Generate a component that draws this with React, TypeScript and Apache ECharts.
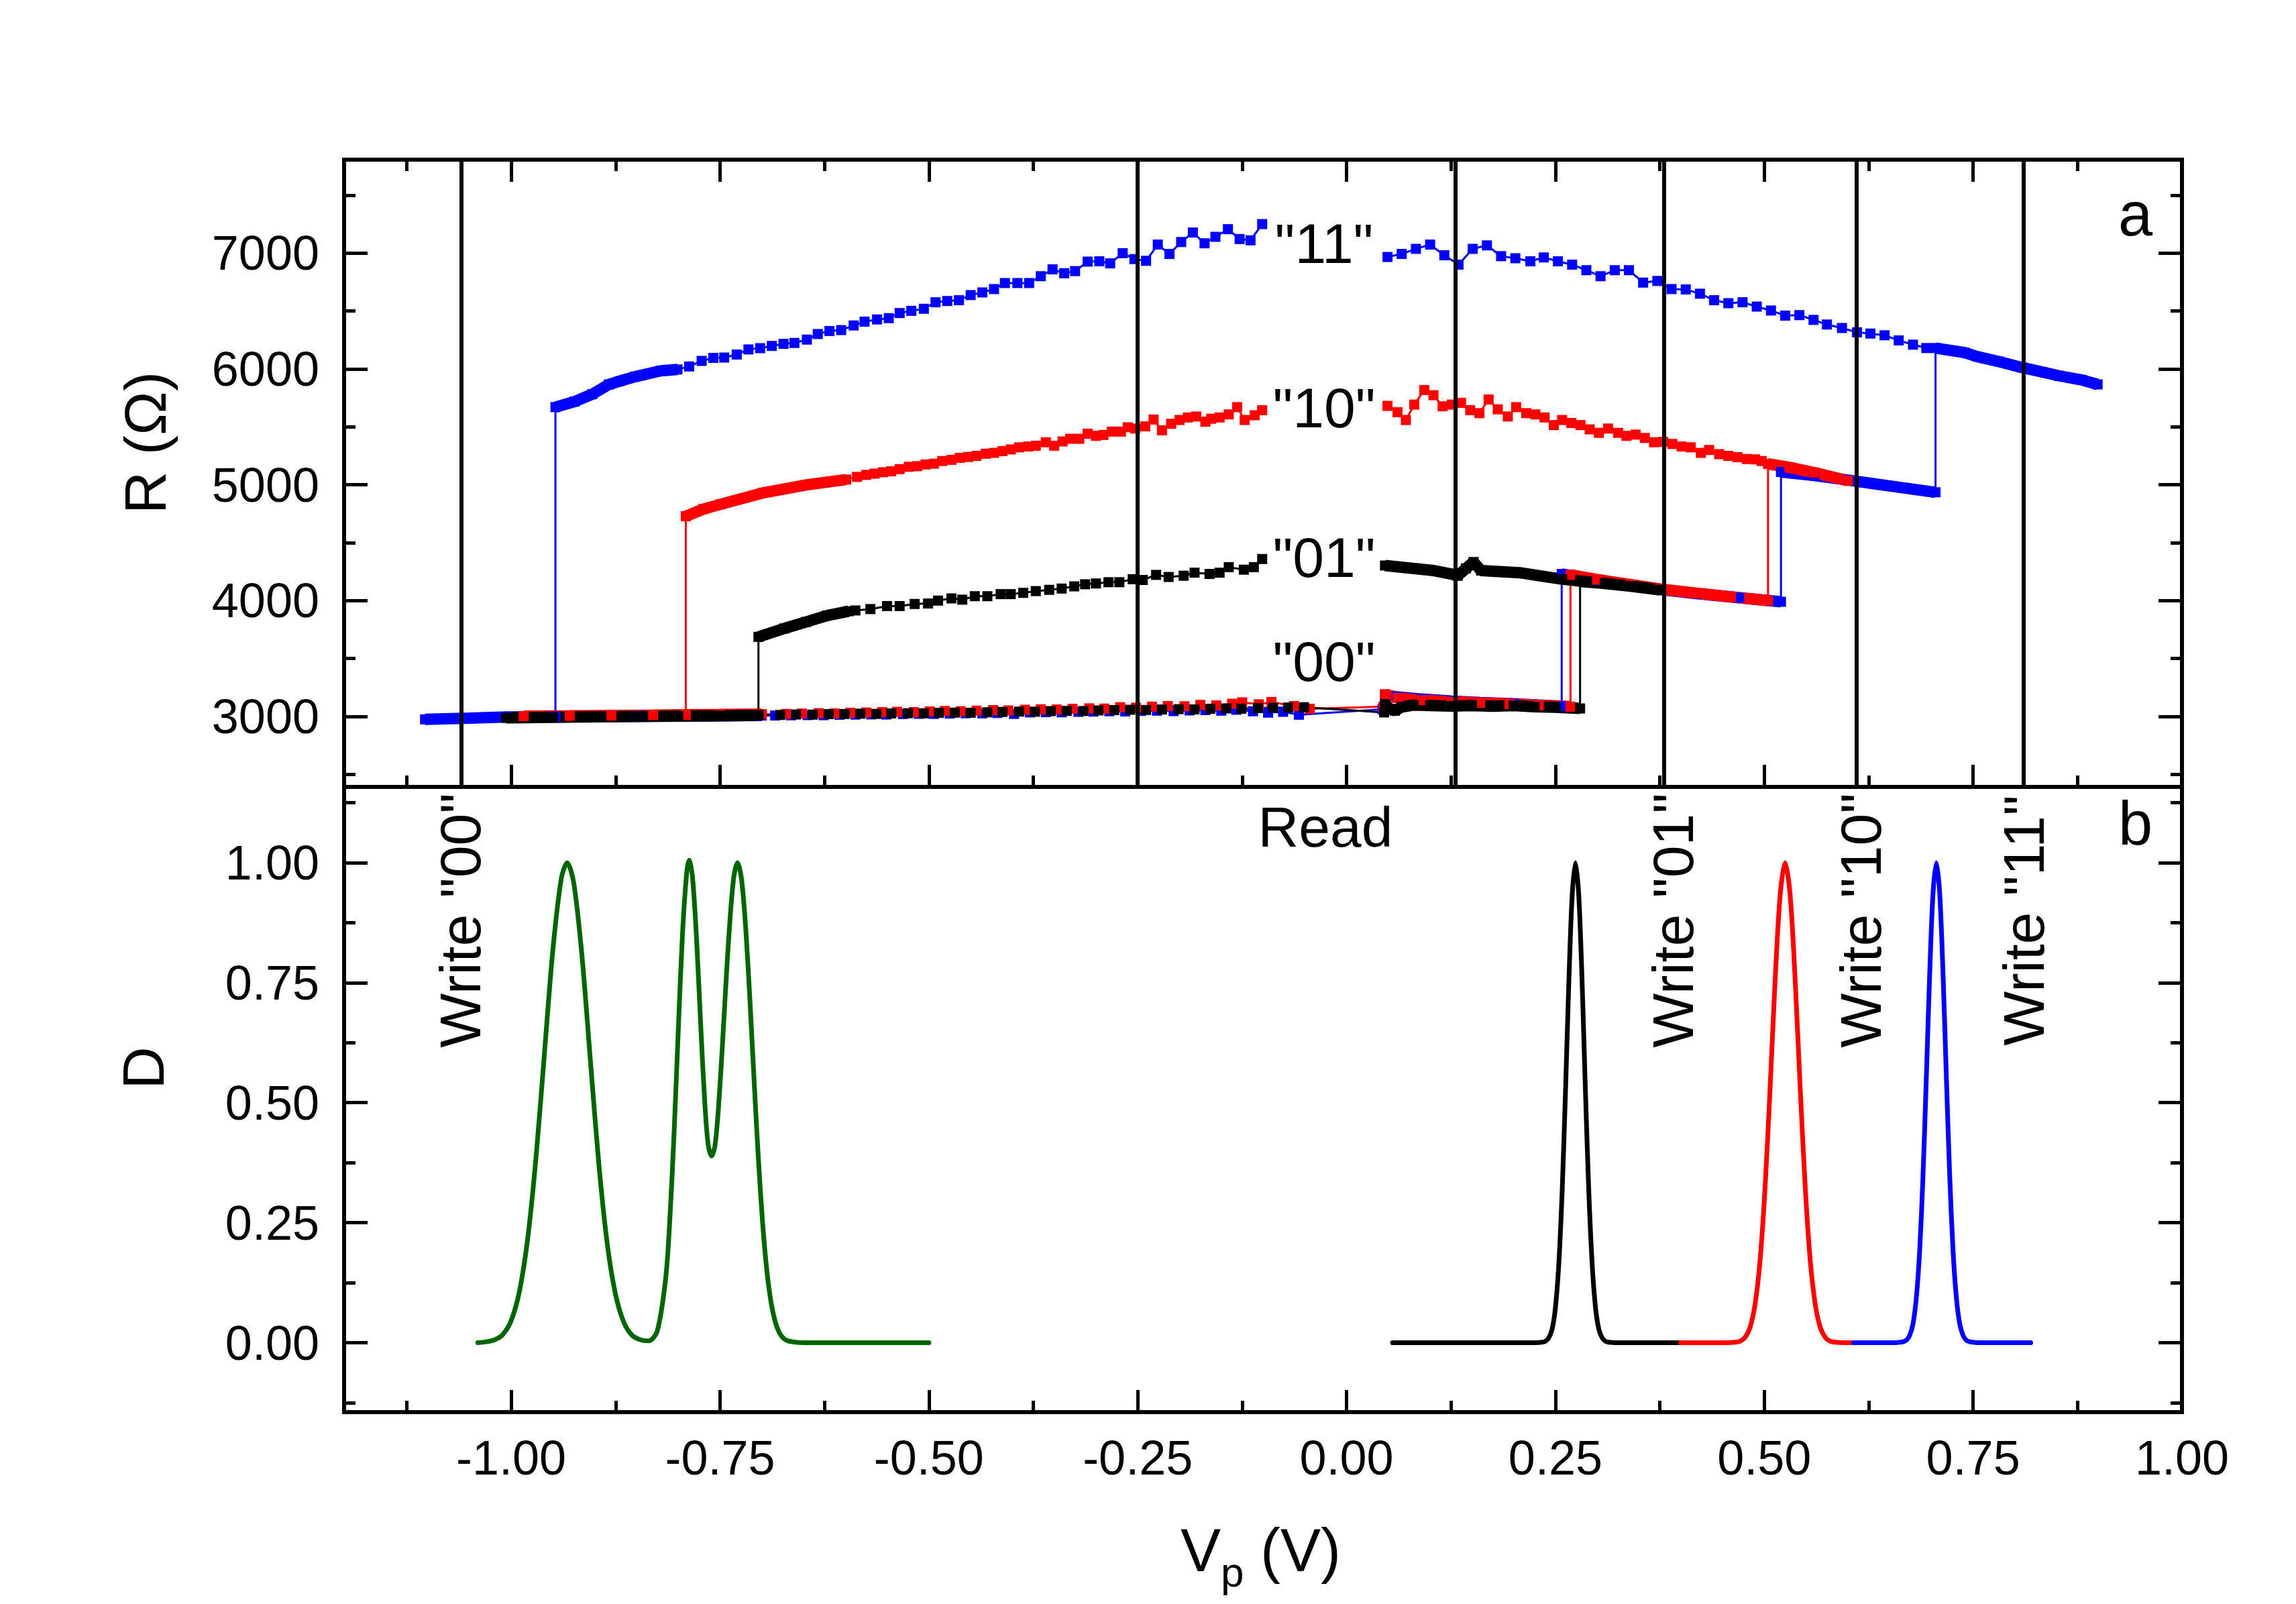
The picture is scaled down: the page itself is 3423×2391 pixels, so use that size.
import React, { useEffect, useRef } from 'react';
import * as echarts from 'echarts';

const FONT = '"Liberation Sans", Arial, Helvetica, sans-serif';

// ---------- axis ticks ----------
const xMajorTicks = [-1, -0.75, -0.5, -0.25, 0, 0.25, 0.5, 0.75, 1];
const xMinorTicks = [-1.125, -0.875, -0.625, -0.375, -0.125, 0.125, 0.375, 0.625, 0.875];
const rMajorTicks = [3000, 4000, 5000, 6000, 7000];
const rMinorTicks = [2500, 3500, 4500, 5500, 6500, 7500];
const dMajorTicks = [0, 0.25, 0.5, 0.75, 1];
const dMinorTicks = [-0.125, 0.125, 0.375, 0.625, 0.875, 1.125];
const pulseLines = [-1.06, -0.25, 0.125, 0.375, 0.61, 0.81];

// ---------- panel a : blue ("11") ----------
const blueBaseDense = [[-1.103, 2975], [-1.08, 2980], [-1.05, 2985], [-1.006, 2995], [-0.95, 2998], [-0.85, 3002], [-0.75, 3006], [-0.7, 3008]];
const blueBaseSparse = [[-0.684, 3008], [-0.665, 3010], [-0.645, 3012], [-0.626, 3011], [-0.607, 3015], [-0.588, 3016], [-0.569, 3018], [-0.551, 3017], [-0.531, 3021], [-0.512, 3023], [-0.494, 3022], [-0.475, 3025], [-0.456, 3028], [-0.436, 3027], [-0.418, 3030], [-0.398, 3022], [-0.379, 3035], [-0.36, 3037], [-0.341, 3036], [-0.321, 3040], [-0.303, 3042], [-0.284, 3045], [-0.265, 3043], [-0.246, 3048], [-0.227, 3050], [-0.207, 3046], [-0.188, 3052], [-0.169, 3055], [-0.15, 3050], [-0.132, 3058], [-0.112, 3045], [-0.094, 3033], [-0.076, 3040], [-0.057, 3015]];
const blueCluster = [[0.043, 3062], [0.046, 3185], [0.06, 3170], [0.09, 3150], [0.125, 3133], [0.16, 3120], [0.2, 3110], [0.23, 3098], [0.2575, 3088]];
const blueState01 = [[0.2575, 4230], [0.3, 4178], [0.34, 4135], [0.375, 4095], [0.42, 4060], [0.47, 4025], [0.52, 3990]];
const blueState10 = [[0.52, 5110], [0.56, 5080], [0.6, 5040], [0.65, 4990], [0.705, 4935]];
const blueState11 = [[0.705, 6180], [0.74, 6140], [0.755, 6106], [0.78, 6065], [0.808, 6013], [0.853, 5940], [0.88, 5905], [0.899, 5866]];
const blueUpperPos = [[0.694, 6180], [0.678, 6209], [0.661, 6246], [0.644, 6290], [0.627, 6305], [0.611, 6316], [0.593, 6353], [0.575, 6383], [0.559, 6423], [0.542, 6464], [0.525, 6460], [0.508, 6504], [0.491, 6538], [0.474, 6575], [0.457, 6567], [0.44, 6593], [0.423, 6649], [0.406, 6686], [0.389, 6689], [0.372, 6759], [0.355, 6745], [0.338, 6852], [0.321, 6852], [0.304, 6800], [0.287, 6852], [0.27, 6900], [0.253, 6929], [0.236, 6962], [0.22, 6929], [0.202, 6955], [0.185, 6973], [0.168, 7066], [0.151, 7036], [0.134, 6900], [0.117, 6981], [0.1, 7073], [0.083, 7036], [0.066, 6992], [0.049, 6966]];
const blueUpperNeg = [[-0.101, 7250], [-0.115, 7110], [-0.128, 7121], [-0.142, 7206], [-0.157, 7140], [-0.17, 7084], [-0.184, 7177], [-0.198, 7095], [-0.212, 6992], [-0.226, 7073], [-0.24, 6933], [-0.254, 6948], [-0.268, 6999], [-0.283, 6911], [-0.296, 6929], [-0.31, 6926], [-0.325, 6844], [-0.338, 6826], [-0.352, 6859], [-0.366, 6800], [-0.38, 6741], [-0.394, 6741], [-0.409, 6741], [-0.422, 6689], [-0.436, 6660], [-0.45, 6637], [-0.464, 6593], [-0.478, 6586], [-0.492, 6575], [-0.506, 6519], [-0.521, 6501], [-0.535, 6482], [-0.548, 6438], [-0.562, 6427], [-0.577, 6408], [-0.59, 6375], [-0.605, 6335], [-0.619, 6327], [-0.633, 6301], [-0.646, 6253], [-0.661, 6224], [-0.674, 6216], [-0.688, 6198], [-0.702, 6179], [-0.716, 6168], [-0.73, 6124], [-0.745, 6098], [-0.758, 6095], [-0.772, 6069], [-0.787, 6021]];
const blueUpperDense = [[-0.801, 5995], [-0.821, 5984], [-0.852, 5932], [-0.87, 5895], [-0.883, 5866], [-0.903, 5781], [-0.924, 5718], [-0.947, 5670]];
const blueDrop = [[-0.947, 2998]];

// ---------- panel a : red ("10") ----------
const redBaseDense = [[-0.985, 3003], [-0.93, 3006], [-0.88, 3009], [-0.83, 3012], [-0.791, 3015], [-0.75, 3017], [-0.7, 3020]];
const redBaseSparse = [[-0.671, 3022], [-0.652, 3025], [-0.632, 3028], [-0.613, 3027], [-0.594, 3032], [-0.575, 3034], [-0.556, 3037], [-0.538, 3040], [-0.518, 3038], [-0.499, 3043], [-0.481, 3047], [-0.462, 3045], [-0.443, 3050], [-0.423, 3055], [-0.405, 3052], [-0.385, 3058], [-0.366, 3062], [-0.347, 3060], [-0.328, 3066], [-0.308, 3070], [-0.29, 3068], [-0.271, 3080], [-0.252, 3076], [-0.233, 3085], [-0.214, 3090], [-0.194, 3088], [-0.175, 3100], [-0.156, 3095], [-0.137, 3110], [-0.125, 3122], [-0.105, 3105], [-0.09, 3125], [-0.063, 3090], [-0.044, 3066]];
const redCluster = [[0.044, 3085], [0.046, 3192], [0.061, 3160], [0.09, 3140], [0.125, 3127], [0.16, 3118], [0.195, 3108], [0.23, 3097], [0.268, 3085]];
const redState01 = [[0.268, 4222], [0.3, 4182], [0.34, 4138], [0.375, 4100], [0.42, 4063], [0.46, 4032], [0.5045, 4000]];
const redState10 = [[0.5045, 5180], [0.53, 5150], [0.56, 5105], [0.6, 5035]];
const redUpperPos = [[0.497, 5205], [0.489, 5219], [0.479, 5222], [0.468, 5238], [0.457, 5249], [0.446, 5264], [0.434, 5300], [0.424, 5275], [0.412, 5323], [0.401, 5330], [0.39, 5352], [0.379, 5370], [0.368, 5367], [0.357, 5404], [0.346, 5433], [0.335, 5422], [0.325, 5448], [0.313, 5485], [0.302, 5448], [0.291, 5478], [0.28, 5515], [0.269, 5533], [0.258, 5559], [0.248, 5515], [0.237, 5581], [0.226, 5607], [0.215, 5618], [0.203, 5670], [0.193, 5589], [0.181, 5651], [0.17, 5736], [0.159, 5618], [0.148, 5644], [0.137, 5707], [0.126, 5692], [0.115, 5677], [0.104, 5773], [0.093, 5818], [0.081, 5692], [0.071, 5559], [0.061, 5626], [0.049, 5681]];
const redUpperNeg = [[-0.101, 5644], [-0.11, 5600], [-0.122, 5559], [-0.131, 5670], [-0.141, 5607], [-0.152, 5581], [-0.162, 5570], [-0.169, 5544], [-0.18, 5589], [-0.19, 5581], [-0.2, 5559], [-0.21, 5526], [-0.221, 5470], [-0.231, 5563], [-0.241, 5504], [-0.253, 5485], [-0.262, 5496], [-0.27, 5459], [-0.281, 5459], [-0.291, 5430], [-0.3, 5422], [-0.31, 5441], [-0.32, 5397], [-0.331, 5397], [-0.34, 5374], [-0.35, 5337], [-0.36, 5367], [-0.372, 5337], [-0.381, 5330], [-0.392, 5323], [-0.402, 5305], [-0.412, 5290], [-0.422, 5275], [-0.432, 5268], [-0.443, 5249], [-0.453, 5240], [-0.463, 5232], [-0.473, 5215], [-0.484, 5205], [-0.494, 5182], [-0.504, 5175], [-0.514, 5160], [-0.524, 5155], [-0.535, 5135], [-0.545, 5116], [-0.555, 5108], [-0.565, 5096], [-0.575, 5085], [-0.586, 5068]];
const redUpperDense = [[-0.599, 5045], [-0.647, 4998], [-0.698, 4931], [-0.749, 4832], [-0.77, 4790], [-0.791, 4728]];
const redDrop = [[-0.791, 3015]];

// ---------- panel a : black ("01") ----------
const blackBaseDense = [[-1.006, 2988], [-0.95, 2993], [-0.9, 2997], [-0.85, 3000], [-0.8, 3003], [-0.75, 3006], [-0.704, 3010]];
const blackBaseSparse = [[-0.678, 3013], [-0.659, 3017], [-0.639, 3016], [-0.62, 3020], [-0.601, 3021], [-0.582, 3024], [-0.563, 3022], [-0.545, 3026], [-0.525, 3028], [-0.506, 3027], [-0.488, 3031], [-0.469, 3033], [-0.45, 3032], [-0.43, 3036], [-0.412, 3039], [-0.392, 3042], [-0.373, 3041], [-0.354, 3046], [-0.335, 3048], [-0.315, 3047], [-0.297, 3052], [-0.278, 3055], [-0.259, 3058], [-0.24, 3056], [-0.221, 3060], [-0.201, 3063], [-0.182, 3061], [-0.163, 3066], [-0.144, 3069], [-0.126, 3067], [-0.106, 3072], [-0.088, 3075], [-0.07, 3077], [-0.051, 3080]];
const blackCluster = [[0.045, 3035], [0.046, 3105], [0.052, 3065], [0.058, 3050], [0.066, 3082], [0.08, 3098], [0.1, 3094], [0.125, 3089], [0.15, 3094], [0.175, 3088], [0.2, 3094], [0.225, 3084], [0.25, 3080], [0.2795, 3069]];
const blackState01 = [[0.2795, 4165], [0.31, 4148], [0.34, 4125], [0.375, 4093]];
const blackUpperDense = [[0.375, 4093], [0.34, 4125], [0.309, 4148], [0.258, 4185], [0.207, 4241], [0.161, 4259], [0.152, 4333], [0.143, 4278], [0.133, 4215], [0.125, 4230], [0.1045, 4259], [0.079, 4278], [0.046, 4303]];
const blackUpperNeg = [[-0.101, 4359], [-0.111, 4289], [-0.123, 4267], [-0.141, 4289], [-0.152, 4241], [-0.164, 4230], [-0.182, 4241], [-0.195, 4215], [-0.213, 4204], [-0.228, 4222], [-0.244, 4178], [-0.256, 4185], [-0.272, 4159], [-0.285, 4159], [-0.3, 4148], [-0.313, 4141], [-0.326, 4123], [-0.341, 4104], [-0.356, 4093], [-0.372, 4082], [-0.387, 4067], [-0.402, 4056], [-0.414, 4056], [-0.43, 4038], [-0.445, 4038], [-0.46, 4008], [-0.473, 4019], [-0.489, 4000], [-0.501, 3975], [-0.517, 3971], [-0.535, 3953], [-0.55, 3953], [-0.57, 3927], [-0.588, 3915]];
const blackUpperDense2 = [[-0.596, 3908], [-0.622, 3871], [-0.647, 3816], [-0.673, 3760], [-0.704, 3687]];
const blackDrop = [[-0.704, 3012]];

// ---------- panel b : distributions ----------
const greenD = [[-1.04, 0], [-1.03, 0.002], [-1.02, 0.006], [-1.01, 0.017], [-1.0, 0.046], [-0.99, 0.108], [-0.98, 0.22], [-0.97, 0.391], [-0.96, 0.607], [-0.95, 0.82], [-0.94, 0.967], [-0.933, 1.0], [-0.925, 0.957], [-0.915, 0.801], [-0.905, 0.584], [-0.895, 0.371], [-0.885, 0.206], [-0.875, 0.1], [-0.865, 0.042], [-0.855, 0.015], [-0.845, 0.006], [-0.835, 0.004], [-0.825, 0.025], [-0.815, 0.135], [-0.81, 0.259], [-0.805, 0.437], [-0.8, 0.65], [-0.795, 0.849], [-0.79, 0.977], [-0.787, 1.005], [-0.783, 0.971], [-0.778, 0.838], [-0.773, 0.657], [-0.768, 0.493], [-0.764, 0.41], [-0.76, 0.389], [-0.756, 0.411], [-0.752, 0.486], [-0.747, 0.624], [-0.742, 0.776], [-0.737, 0.906], [-0.733, 0.976], [-0.729, 1.0], [-0.724, 0.962], [-0.719, 0.857], [-0.714, 0.707], [-0.709, 0.539], [-0.704, 0.381], [-0.699, 0.249], [-0.694, 0.151], [-0.689, 0.085], [-0.684, 0.044], [-0.679, 0.021], [-0.674, 0.009], [-0.669, 0.004], [-0.66, 0.001], [-0.65, 0], [-0.5, 0]];
const blackD = [[0.055, 0], [0.15, 0], [0.226, 0], [0.234, 0.001], [0.238, 0.003], [0.242, 0.01], [0.246, 0.028], [0.25, 0.073], [0.254, 0.163], [0.258, 0.313], [0.262, 0.52], [0.266, 0.748], [0.27, 0.93], [0.274, 1.0], [0.278, 0.93], [0.282, 0.748], [0.286, 0.52], [0.29, 0.313], [0.294, 0.163], [0.298, 0.073], [0.302, 0.028], [0.306, 0.01], [0.31, 0.003], [0.314, 0.001], [0.322, 0], [0.4, 0]];
const redD = [[0.4, 0], [0.455, 0], [0.465, 0.001], [0.471, 0.003], [0.477, 0.011], [0.483, 0.032], [0.489, 0.08], [0.495, 0.172], [0.501, 0.325], [0.507, 0.531], [0.513, 0.755], [0.519, 0.932], [0.525, 1.0], [0.531, 0.932], [0.537, 0.755], [0.543, 0.531], [0.549, 0.325], [0.555, 0.172], [0.561, 0.08], [0.567, 0.032], [0.573, 0.011], [0.579, 0.003], [0.585, 0.001], [0.595, 0], [0.607, 0]];
const blueD = [[0.607, 0], [0.655, 0], [0.662, 0.001], [0.666, 0.002], [0.67, 0.005], [0.674, 0.015], [0.678, 0.039], [0.682, 0.093], [0.686, 0.191], [0.69, 0.347], [0.694, 0.552], [0.698, 0.768], [0.702, 0.936], [0.706, 1.0], [0.71, 0.936], [0.714, 0.768], [0.718, 0.552], [0.722, 0.347], [0.726, 0.191], [0.73, 0.093], [0.734, 0.039], [0.738, 0.015], [0.742, 0.005], [0.746, 0.002], [0.75, 0.001], [0.758, 0], [0.819, 0]];

const BLUE = '#0000ff';
const RED = '#ff0000';
const BLACK = '#000000';
const GREEN = '#006400';

function denseSeries(color: string, seg: number[][]) {
  return {
    type: 'line', xAxisIndex: 0, yAxisIndex: 0, data: seg, symbol: 'none', silent: true,
    lineStyle: { color, width: 17, cap: 'butt', join: 'bevel' },
  };
}
function pathSeries(color: string, pts: number[][]) {
  return {
    type: 'line', xAxisIndex: 0, yAxisIndex: 0, data: pts, symbol: 'rect', symbolSize: 15,
    showSymbol: true, showAllSymbol: true, silent: true,
    itemStyle: { color }, lineStyle: { color, width: 3 },
  };
}
function dSeries(color: string, pts: number[][]) {
  return {
    type: 'line', xAxisIndex: 4, yAxisIndex: 4, data: pts, symbol: 'none', silent: true, smooth: 0.3,
    lineStyle: { color, width: 7, cap: 'round', join: 'round' },
  };
}

function App() {
  const ref = useRef<HTMLDivElement>(null);
  useEffect(() => {
    document.body.style.margin = '0';
    const chart = echarts.init(ref.current!, null, { renderer: 'svg' });
    const axisLine = { show: true, onZero: false, lineStyle: { color: '#000', width: 6, cap: 'square' } };
    const hiddenLine = { show: false, onZero: false };
    const tick = (len: number, vals: number[]) => ({ show: true, inside: true, length: len, customValues: vals, lineStyle: { color: '#000', width: 5 } });
    const noLabel = { show: false };
    const noSplit = { show: false };
    const labelStyle = { color: '#000', fontSize: 72, fontFamily: FONT };

    const xBase = { type: 'value', min: -1.2, max: 1.0, splitLine: noSplit };
    const yTop = { type: 'value', min: 2392, max: 7806, splitLine: noSplit };
    const yBot = { type: 'value', min: -0.1446, max: 1.1578, splitLine: noSplit };

    const txt = (text: string, x: number, y: number, size: number, align = 'center', rot = 0) => ({
      type: 'text', x, y, rotation: rot, z: 100, silent: true,
      style: { text, fontSize: size, fontFamily: FONT, fill: '#000', align, verticalAlign: 'middle', textAlign: align, textVerticalAlign: 'middle' },
    });

    const option: any = {
      animation: false,
      textStyle: { fontFamily: FONT },
      grid: [
        { left: 513, top: 238, width: 2740, height: 935, outerBoundsMode: 'none', containLabel: false },
        { left: 513, top: 1173, width: 2740, height: 932, outerBoundsMode: 'none', containLabel: false },
      ],
      xAxis: [
        { ...xBase, gridIndex: 0, position: 'bottom', axisLine, axisTick: tick(33, xMajorTicks), axisLabel: noLabel },
        { ...xBase, gridIndex: 0, position: 'bottom', axisLine: hiddenLine, axisTick: tick(17, xMinorTicks), axisLabel: noLabel },
        { ...xBase, gridIndex: 0, position: 'top', axisLine, axisTick: tick(33, xMajorTicks), axisLabel: noLabel },
        { ...xBase, gridIndex: 0, position: 'top', axisLine: hiddenLine, axisTick: tick(17, xMinorTicks), axisLabel: noLabel },
        {
          ...xBase, gridIndex: 1, position: 'bottom', axisLine, axisTick: tick(33, xMajorTicks),
          axisLabel: { show: true, customValues: xMajorTicks, formatter: (v: number) => v.toFixed(2), margin: 32, ...labelStyle },
        },
        { ...xBase, gridIndex: 1, position: 'bottom', axisLine: hiddenLine, axisTick: tick(17, xMinorTicks), axisLabel: noLabel },
        { ...xBase, gridIndex: 1, position: 'top', axisLine, axisTick: { show: false }, axisLabel: noLabel },
      ],
      yAxis: [
        {
          ...yTop, gridIndex: 0, position: 'left', axisLine, axisTick: tick(35, rMajorTicks),
          axisLabel: { show: true, customValues: rMajorTicks, formatter: (v: number) => String(v), margin: 37, ...labelStyle },
        },
        { ...yTop, gridIndex: 0, position: 'left', axisLine: hiddenLine, axisTick: tick(17, rMinorTicks), axisLabel: noLabel },
        { ...yTop, gridIndex: 0, position: 'right', axisLine, axisTick: tick(35, rMajorTicks), axisLabel: noLabel },
        { ...yTop, gridIndex: 0, position: 'right', axisLine: hiddenLine, axisTick: tick(17, rMinorTicks), axisLabel: noLabel },
        {
          ...yBot, gridIndex: 1, position: 'left', axisLine, axisTick: tick(35, dMajorTicks),
          axisLabel: { show: true, customValues: dMajorTicks, formatter: (v: number) => v.toFixed(2), margin: 37, ...labelStyle },
        },
        { ...yBot, gridIndex: 1, position: 'left', axisLine: hiddenLine, axisTick: tick(17, dMinorTicks), axisLabel: noLabel },
        { ...yBot, gridIndex: 1, position: 'right', axisLine, axisTick: tick(35, dMajorTicks), axisLabel: noLabel },
        { ...yBot, gridIndex: 1, position: 'right', axisLine: hiddenLine, axisTick: tick(17, dMinorTicks), axisLabel: noLabel },
      ],
      series: [
        // blue loop
        denseSeries(BLUE, blueBaseDense),
        denseSeries(BLUE, blueCluster.slice(1)),
        denseSeries(BLUE, blueState01),
        denseSeries(BLUE, blueState10),
        denseSeries(BLUE, blueState11),
        denseSeries(BLUE, blueUpperDense),
        pathSeries(BLUE, [...blueBaseDense, ...blueBaseSparse, ...blueCluster, ...blueState01, ...blueState10, ...blueState11, ...blueUpperPos]),
        pathSeries(BLUE, [...blueUpperNeg, ...blueUpperDense, ...blueDrop]),
        // red loop
        denseSeries(RED, redBaseDense),
        denseSeries(RED, redCluster.slice(1)),
        denseSeries(RED, redState01),
        denseSeries(RED, redState10),
        denseSeries(RED, redUpperDense),
        pathSeries(RED, [...redBaseDense, ...redBaseSparse, ...redCluster, ...redState01, ...redState10, ...redUpperPos]),
        pathSeries(RED, [...redUpperNeg, ...redUpperDense, ...redDrop]),
        // black loop
        denseSeries(BLACK, blackBaseDense),
        denseSeries(BLACK, blackCluster.slice(1)),
        denseSeries(BLACK, [...blackState01, ...blackUpperDense.slice(1)]),
        denseSeries(BLACK, blackUpperDense2),
        pathSeries(BLACK, [...blackBaseDense, ...blackBaseSparse, ...blackCluster, ...blackState01, ...blackUpperDense.slice(1)]),
        pathSeries(BLACK, [...blackUpperNeg, ...blackUpperDense2, ...blackDrop]),
        // pulse-level lines
        {
          type: 'line', xAxisIndex: 0, yAxisIndex: 0, data: [], silent: true,
          markLine: {
            silent: true, symbol: ['none', 'none'], animation: false, label: { show: false },
            lineStyle: { color: '#000', width: 6, type: 'solid' },
            emphasis: { disabled: true },
            data: pulseLines.map((v) => ({ xAxis: v })),
          },
        },
        // panel b
        dSeries(GREEN, greenD),
        dSeries(BLACK, blackD),
        dSeries(RED, redD),
        dSeries(BLUE, blueD),
      ],
      graphic: [
        txt('"11"', 1974, 363, 84),
        txt('"10"', 1974, 608, 84),
        txt('"01"', 1974, 831, 84),
        txt('"00"', 1974, 986, 84),
        txt('Read', 1976, 1233, 84),
        txt('a', 3158, 319, 92, 'left'),
        txt('b', 3158, 1227, 92, 'left'),
        txt('Write "00"', 686, 1372, 86, 'center', Math.PI / 2),
        txt('Write "01"', 2494, 1372, 86, 'center', Math.PI / 2),
        txt('Write "10"', 2774, 1372, 86, 'center', Math.PI / 2),
        txt('Write "11"', 3017, 1372, 86, 'center', Math.PI / 2),
        txt('R (\u03A9)', 216, 660, 88, 'center', Math.PI / 2),
        txt('D', 213, 1592, 88, 'center', Math.PI / 2),
        txt('V', 1760, 2311, 90, 'left'),
        txt('p', 1820, 2343, 62, 'left'),
        txt(' (V)', 1854, 2311, 90, 'left'),
      ],
    };
    chart.setOption(option);
    return () => chart.dispose();
  }, []);
  return <div ref={ref} style={{ position: 'absolute', left: 0, top: 0, width: 3423, height: 2391, background: '#fff' }} />;
}

export default App;
